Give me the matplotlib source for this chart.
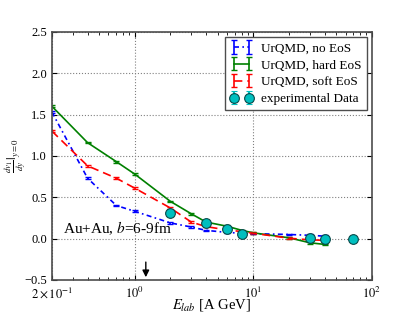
import matplotlib
matplotlib.use("Agg")
import matplotlib.pyplot as plt

plt.rcParams['font.family'] = ['Liberation Serif', 'DejaVu Serif']
plt.rcParams['mathtext.fontset'] = 'stix'
plt.rcParams['xtick.direction'] = 'in'
plt.rcParams['ytick.direction'] = 'in'
plt.rcParams['xtick.top'] = True
plt.rcParams['ytick.right'] = True
plt.rcParams['axes.edgecolor'] = '0.3'
plt.rcParams['axes.linewidth'] = 1.2

# model energies [A GeV] and dv1/dy at midrapidity
e_model = [0.2, 0.4, 0.7, 1.0, 2.0, 3.0, 4.0, 6.0, 8.0, 10.0, 20.0, 30.0, 40.0]
v1_noeos = [1.53, 0.73, 0.40, 0.33, 0.19, 0.14, 0.10, 0.075, 0.065, 0.06, 0.05, 0.04, 0.03]
v1_hard = [1.60, 1.16, 0.93, 0.78, 0.45, 0.30, 0.20, 0.15, 0.10, 0.07, 0.01, -0.05, -0.07]
v1_soft = [1.30, 0.88, 0.73, 0.61, 0.37, 0.20, 0.145, 0.105, 0.085, 0.065, 0.005, -0.015, -0.02]
err_model = [0.01, 0.01, 0.01, 0.01, 0.01, 0.01, 0.01, 0.01, 0.01, 0.01, 0.01, 0.01, 0.01]

# experimental data
e_data = [2.0, 4.0, 6.0, 8.0, 30.0, 40.0, 70.0]
v1_data = [0.307, 0.186, 0.113, 0.057, 0.012, -0.007, -0.007]

fig = plt.figure(figsize=(4.15, 3.12), dpi=100)
ax = fig.add_axes([0.125, 0.1026, 0.771, 0.7955])

ax.errorbar(e_model, v1_noeos, yerr=err_model, color='b', ls=(0, (3, 2, 1, 2)), lw=1.2,
            capsize=2, label='UrQMD, no EoS')
ax.errorbar(e_model, v1_hard, yerr=err_model, color='g', ls='-', lw=1.2,
            capsize=2, label='UrQMD, hard EoS')
ax.errorbar(e_model, v1_soft, yerr=err_model, color='r', ls=(0, (5, 3)), lw=1.2,
            capsize=2, label='UrQMD, soft EoS')
ax.errorbar(e_data, v1_data, yerr=0.005, color='c', ls='none', marker='o', ms=7,
            mec='#084848', mew=0.8, capsize=2, label='experimental Data')

ax.set_xscale('log')
ax.set_xlim(0.2, 100)
ax.set_ylim(-0.5, 2.5)
ax.set_xticks([0.2, 1, 10, 100])
ax.set_xticklabels([r'$2\times10^{-1}$', r'$10^{0}$', r'$10^{1}$', r'$10^{2}$'])
ax.set_yticks([-0.5, 0.0, 0.5, 1.0, 1.5, 2.0, 2.5])
ax.tick_params(labelsize=9)
ax.tick_params(axis='x', pad=4)
ax.grid(True, ls=':', color='0.5', lw=0.8)

ax.set_xlabel(r'$E_{lab}$ [A GeV]', fontsize=10.5)
ax.xaxis.set_label_coords(0.5, -0.068)
ax.set_ylabel(r'$\frac{dv_1}{dy}|_{y=0}$', fontsize=9)
ax.yaxis.set_label_coords(-0.075, 0.5)

ax.text(0.034, 0.19, r'Au+Au, $b$=6-9fm', transform=ax.transAxes, fontsize=11)
ax.annotate('', xy=(1.24, -0.5), xytext=(1.24, -0.25),
            arrowprops=dict(arrowstyle='-|>', color='k', lw=1.0))

leg = ax.legend(loc='upper right', fontsize=9.5, numpoints=2, fancybox=False,
                framealpha=1, edgecolor='0.3', handlelength=1.7, handletextpad=0.6,
                borderaxespad=0.4, labelspacing=0.35)
leg.get_frame().set_linewidth(1.0)

fig.savefig('out.png', dpi=100)
